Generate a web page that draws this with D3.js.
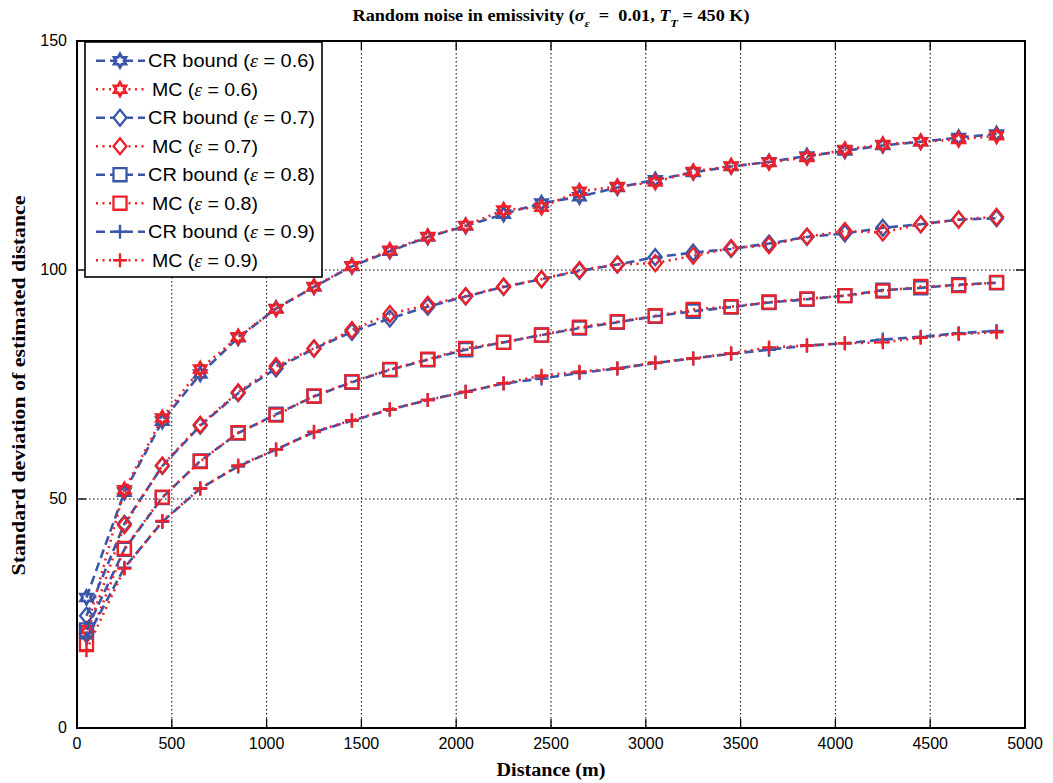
<!DOCTYPE html>
<html>
<head>
<meta charset="utf-8">
<script src="https://cdn.jsdelivr.net/npm/d3@7"></script>
<style>
  html, body { margin: 0; padding: 0; background: #fff; }
  svg { display: block; }
</style>
</head>
<body>
<svg id="chart" width="1053" height="783"></svg>
<script>
// Sample distances (m)
const distances = [50, 250, 450, 650, 850, 1050, 1250, 1450, 1650, 1850, 2050, 2250, 2450,
                   2650, 2850, 3050, 3250, 3450, 3650, 3850, 4050, 4250, 4450, 4650, 4850];

// Cramér–Rao bound of the distance standard deviation, per emissivity
const crEps06 = [28.5, 51.5, 67.0, 77.3, 85.2, 91.6, 96.3, 100.8, 104.1, 107.2, 109.6, 112.2, 114.6,
                 116.0, 118.0, 119.7, 121.3, 122.6, 123.6, 124.9, 126.0, 127.2, 128.0, 128.9, 129.7];
const crEps07 = [24.5, 44.6, 57.2, 66.0, 73.1, 78.5, 82.8, 86.5, 89.4, 92.0, 94.2, 96.3, 98.0,
                 99.8, 101.2, 102.8, 103.8, 104.6, 105.8, 107.2, 108.0, 109.2, 110.0, 111.0, 111.3];
const crEps08 = [21.4, 39.0, 50.3, 58.3, 64.4, 68.5, 72.4, 75.5, 78.2, 80.4, 82.6, 84.2, 85.8,
                 87.3, 88.6, 89.9, 91.0, 91.9, 92.9, 93.6, 94.4, 95.6, 96.1, 96.8, 97.2];
const crEps09 = [19.6, 35.0, 45.0, 52.3, 57.1, 60.8, 64.6, 67.1, 69.5, 71.6, 73.4, 75.2, 76.3,
                 77.5, 78.5, 79.7, 80.7, 81.7, 82.6, 83.5, 84.0, 84.8, 85.4, 86.2, 86.7];

// Monte Carlo estimates
const mcEps06 = [21.5, 52.0, 67.7, 78.4, 85.4, 91.5, 96.4, 100.9, 104.3, 107.3, 109.7, 113.1, 113.7,
                 117.2, 118.2, 119.2, 121.5, 122.7, 123.5, 124.6, 126.3, 127.4, 128.0, 128.5, 129.3];
const mcEps07 = [20.5, 44.3, 57.3, 66.2, 73.3, 79.0, 82.9, 86.9, 90.4, 92.4, 94.3, 96.4, 98.0,
                 100.0, 101.2, 101.5, 103.1, 104.8, 105.4, 107.3, 108.5, 108.2, 110.0, 111.0, 111.6];
const mcEps08 = [18.2, 39.2, 50.4, 58.2, 64.5, 68.3, 72.5, 75.6, 78.3, 80.5, 82.9, 84.2, 85.8,
                 87.5, 88.7, 90.0, 91.4, 92.0, 93.0, 93.7, 94.4, 95.4, 96.4, 96.6, 97.3];
const mcEps09 = [17.0, 34.8, 45.2, 52.3, 57.3, 60.8, 64.7, 67.2, 69.6, 71.6, 73.4, 75.3, 76.9,
                 77.8, 78.5, 79.8, 80.7, 81.8, 83.1, 83.5, 84.0, 84.2, 85.2, 86.0, 86.4];

const xTicks = [0, 500, 1000, 1500, 2000, 2500, 3000, 3500, 4000, 4500, 5000];
const yTicks = [0, 50, 100, 150];

const BLUE = "#3a56a8";
const RED = "#ec2129";

(function draw() {
  const svg = d3.select("#chart");
  const pLeft = 77, pRight = 1025, pTop = 41, pBottom = 728;

  const x = d3.scaleLinear().domain([0, 5000]).range([pLeft, pRight]);
  const y = d3.scaleLinear().domain([0, 150]).range([pBottom, pTop]);

  // Grid
  const grid = svg.append("g").attr("stroke", "#000").attr("stroke-width", 1).attr("stroke-dasharray", "1.5,2.5");
  xTicks.slice(1, -1).forEach(t => {
    grid.append("line").attr("x1", x(t)).attr("x2", x(t)).attr("y1", pTop).attr("y2", pBottom);
  });
  yTicks.slice(1, -1).forEach(t => {
    grid.append("line").attr("x1", pLeft).attr("x2", pRight).attr("y1", y(t)).attr("y2", y(t));
  });

  // Marker shapes
  function markerPath(kind, s) {
    if (kind === "hexagram") {
      const R = s, r = s / Math.sqrt(3);
      const pts = [];
      for (let k = 0; k < 12; k++) {
        const a = (-90 + k * 30) * Math.PI / 180;
        const rr = k % 2 === 0 ? R : r;
        pts.push([rr * Math.cos(a), rr * Math.sin(a)]);
      }
      return "M" + pts.map(p => p[0].toFixed(2) + "," + p[1].toFixed(2)).join("L") + "Z";
    }
    if (kind === "diamond") {
      const h = s * 1.05, w = s * 0.85;
      return `M0,${-h}L${w},0L0,${h}L${-w},0Z`;
    }
    if (kind === "square") {
      const h = s * 0.86;
      return `M${-h},${-h}H${h}V${h}H${-h}Z`;
    }
    return `M${-s},0H${s}M0,${-s}V${s}`;
  }
  const markerSize = { hexagram: 6.8, diamond: 7.6, square: 7.6, plus: 7 };
  const markerStroke = { hexagram: 2.8, diamond: 2.3, square: 2.3, plus: 2.4 };

  const series = [
    { values: crEps06, color: BLUE, dash: "9,5", kind: "hexagram", name: "CR bound", eps: "0.6" },
    { values: mcEps06, color: RED, dash: "2,4.5", kind: "hexagram", name: "MC", eps: "0.6" },
    { values: crEps07, color: BLUE, dash: "9,5", kind: "diamond", name: "CR bound", eps: "0.7" },
    { values: mcEps07, color: RED, dash: "2,4.5", kind: "diamond", name: "MC", eps: "0.7" },
    { values: crEps08, color: BLUE, dash: "9,5", kind: "square", name: "CR bound", eps: "0.8" },
    { values: mcEps08, color: RED, dash: "2,4.5", kind: "square", name: "MC", eps: "0.8" },
    { values: crEps09, color: BLUE, dash: "9,5", kind: "plus", name: "CR bound", eps: "0.9" },
    { values: mcEps09, color: RED, dash: "2,4.5", kind: "plus", name: "MC", eps: "0.9" }
  ];

  const line = d3.line().x((d, i) => x(distances[i])).y(d => y(d));

  const plot = svg.append("g");
  series.forEach(s => {
    const g = plot.append("g");
    g.append("path")
      .attr("d", line(s.values))
      .attr("fill", "none")
      .attr("stroke", s.color)
      .attr("stroke-width", 2.6)
      .attr("stroke-dasharray", s.dash);
    g.selectAll("path.mk")
      .data(s.values)
      .join("path")
      .attr("class", "mk")
      .attr("d", markerPath(s.kind, markerSize[s.kind]))
      .attr("transform", (d, i) => `translate(${x(distances[i])},${y(d)})`)
      .attr("fill", "none")
      .attr("stroke", s.color)
      .attr("stroke-width", markerStroke[s.kind]);
  });

  // Axes box
  svg.append("rect")
    .attr("x", pLeft).attr("y", pTop)
    .attr("width", pRight - pLeft).attr("height", pBottom - pTop)
    .attr("fill", "none").attr("stroke", "#000").attr("stroke-width", 2);

  // Inward ticks
  const ticks = svg.append("g").attr("stroke", "#000").attr("stroke-width", 1.3);
  const tl = 9;
  xTicks.forEach(t => {
    ticks.append("line").attr("x1", x(t)).attr("x2", x(t)).attr("y1", pBottom).attr("y2", pBottom - tl);
    ticks.append("line").attr("x1", x(t)).attr("x2", x(t)).attr("y1", pTop).attr("y2", pTop + tl);
  });
  yTicks.forEach(t => {
    ticks.append("line").attr("x1", pLeft).attr("x2", pLeft + tl).attr("y1", y(t)).attr("y2", y(t));
    ticks.append("line").attr("x1", pRight).attr("x2", pRight - tl).attr("y1", y(t)).attr("y2", y(t));
  });

  // Tick labels
  const tickFont = "'Liberation Sans', Arial, Helvetica, sans-serif";
  svg.append("g").selectAll("text")
    .data(xTicks).join("text")
    .attr("x", d => x(d)).attr("y", pBottom + 21)
    .attr("text-anchor", "middle")
    .attr("font-family", tickFont).attr("font-size", 16)
    .text(d => d);
  svg.append("g").selectAll("text")
    .data(yTicks).join("text")
    .attr("x", pLeft - 10).attr("y", d => y(d) + 5)
    .attr("text-anchor", "end")
    .attr("font-family", tickFont).attr("font-size", 16)
    .text(d => d);

  // Axis titles
  const serif = "'Liberation Serif', 'Times New Roman', Times, serif";
  svg.append("text")
    .attr("x", (pLeft + pRight) / 2).attr("y", 776)
    .attr("text-anchor", "middle")
    .attr("font-family", serif).attr("font-weight", "bold").attr("font-size", 18)
    .attr("textLength", 109).attr("lengthAdjust", "spacingAndGlyphs")
    .text("Distance (m)");
  svg.append("text")
    .attr("transform", `translate(25,${(pTop + pBottom) / 2 + 1}) rotate(-90)`)
    .attr("text-anchor", "middle")
    .attr("font-family", serif).attr("font-weight", "bold").attr("font-size", 18)
    .attr("textLength", 380).attr("lengthAdjust", "spacingAndGlyphs")
    .text("Standard deviation of estimated distance");

  // Title with subscripts
  const title = svg.append("text")
    .attr("x", (pLeft + pRight) / 2).attr("y", 21)
    .attr("text-anchor", "middle")
    .attr("font-family", serif).attr("font-weight", "bold").attr("font-size", 16)
    .attr("xml:space", "preserve")
    .attr("textLength", 397).attr("lengthAdjust", "spacingAndGlyphs");
  title.append("tspan").text("Random noise in emissivity (");
  title.append("tspan").attr("font-style", "italic").text("σ");
  title.append("tspan").attr("font-style", "italic").attr("font-size", 11).attr("dy", 6).text("ε");
  title.append("tspan").attr("dy", -6).text("  =  0.01, ");
  title.append("tspan").attr("font-style", "italic").text("T");
  title.append("tspan").attr("font-style", "italic").attr("font-size", 11).attr("dy", 6).text("T");
  title.append("tspan").attr("dy", -6).text(" = 450 K)");

  // Legend
  const lgX = 85, lgY = 42, lgW = 237, lgH = 235;
  const legend = svg.append("g");
  legend.append("rect")
    .attr("x", lgX).attr("y", lgY).attr("width", lgW).attr("height", lgH)
    .attr("fill", "#fff").attr("stroke", "#000").attr("stroke-width", 1.6);
  series.forEach((s, i) => {
    const cy = 60.7 + i * 28.5;
    const row = legend.append("g");
    row.append("line")
      .attr("x1", 96).attr("x2", 145).attr("y1", cy).attr("y2", cy)
      .attr("stroke", s.color).attr("stroke-width", 2.6).attr("stroke-dasharray", s.dash);
    row.append("path")
      .attr("d", markerPath(s.kind, markerSize[s.kind]))
      .attr("transform", `translate(120,${cy})`)
      .attr("fill", "#fff").attr("stroke", s.color).attr("stroke-width", markerStroke[s.kind]);
    const t = row.append("text")
      .attr("x", s.name === "MC" ? 152 : 148).attr("y", cy + 6.5)
      .attr("font-family", tickFont).attr("font-size", 18.5)
      .attr("xml:space", "preserve")
      .attr("textLength", s.name === "MC" ? 106 : 167).attr("lengthAdjust", "spacingAndGlyphs");
    t.append("tspan").text(s.name + " (");
    t.append("tspan").attr("font-family", serif).attr("font-style", "italic").text("ε");
    t.append("tspan").text(" = " + s.eps + ")");
  });
})();
</script>
</body>
</html>
